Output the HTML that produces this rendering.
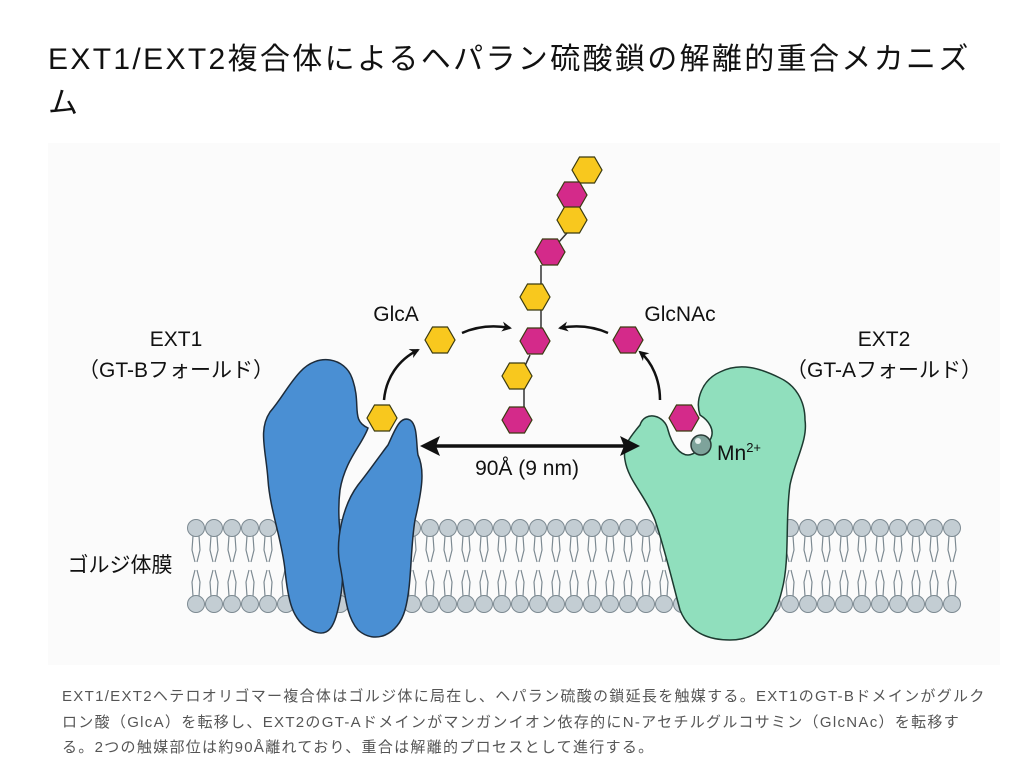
<!DOCTYPE html>
<html><head><meta charset="utf-8"><style>
body{margin:0;background:#fff;width:1019px;height:784px;overflow:hidden;font-family:"Liberation Sans","Noto Sans CJK JP",sans-serif}
.t{position:absolute;left:48px;top:38px;font-size:30px;line-height:44px;color:#111;white-space:nowrap;letter-spacing:2.35px}
.c{position:absolute;left:62px;top:684px;font-size:15px;line-height:25.5px;color:#555;white-space:nowrap;letter-spacing:1.3px}
svg{position:absolute;left:0;top:0}
</style></head><body>
<div class="t">EXT1/EXT2複合体によるヘパラン硫酸鎖の解離的重合メカニズ<br>ム</div>
<svg width="1019" height="784" font-family="Liberation Sans, Noto Sans CJK JP, sans-serif">
<defs>
<polygon id="hx" points="-15,0 -7.5,-13 7.5,-13 15,0 7.5,13 -7.5,13"/>
<marker id="ah" markerWidth="10" markerHeight="10" refX="8" refY="5" orient="auto" markerUnits="userSpaceOnUse"><path d="M0,0 L10,5 L0,10 L3,5z" fill="#111"/></marker>
<g id="lip"><circle cx="0" cy="0" r="8.5" fill="#c3cdd3" stroke="#7d8a92" stroke-width="1"/><path d="M-3,8 L-4,22 L-1,34 M3,8 L4,22 L1,34" stroke="#7d8a92" stroke-width="1.2" fill="none"/></g>
<g id="lip2"><circle cx="0" cy="0" r="8.5" fill="#c3cdd3" stroke="#7d8a92" stroke-width="1"/><path d="M-3,-8 L-4,-22 L-1,-34 M3,-8 L4,-22 L1,-34" stroke="#7d8a92" stroke-width="1.2" fill="none"/></g>
</defs>
<rect x="48" y="143" width="952" height="522" fill="#fbfbfb"/>
<g>
<use href="#lip" x="196" y="528"/><use href="#lip" x="214" y="528"/><use href="#lip" x="232" y="528"/><use href="#lip" x="250" y="528"/><use href="#lip" x="268" y="528"/><use href="#lip" x="286" y="528"/><use href="#lip" x="304" y="528"/><use href="#lip" x="322" y="528"/><use href="#lip" x="340" y="528"/><use href="#lip" x="358" y="528"/><use href="#lip" x="376" y="528"/><use href="#lip" x="394" y="528"/><use href="#lip" x="412" y="528"/><use href="#lip" x="430" y="528"/><use href="#lip" x="448" y="528"/><use href="#lip" x="466" y="528"/><use href="#lip" x="484" y="528"/><use href="#lip" x="502" y="528"/><use href="#lip" x="520" y="528"/><use href="#lip" x="538" y="528"/><use href="#lip" x="556" y="528"/><use href="#lip" x="574" y="528"/><use href="#lip" x="592" y="528"/><use href="#lip" x="610" y="528"/><use href="#lip" x="628" y="528"/><use href="#lip" x="646" y="528"/><use href="#lip" x="664" y="528"/><use href="#lip" x="682" y="528"/><use href="#lip" x="700" y="528"/><use href="#lip" x="718" y="528"/><use href="#lip" x="736" y="528"/><use href="#lip" x="754" y="528"/><use href="#lip" x="772" y="528"/><use href="#lip" x="790" y="528"/><use href="#lip" x="808" y="528"/><use href="#lip" x="826" y="528"/><use href="#lip" x="844" y="528"/><use href="#lip" x="862" y="528"/><use href="#lip" x="880" y="528"/><use href="#lip" x="898" y="528"/><use href="#lip" x="916" y="528"/><use href="#lip" x="934" y="528"/><use href="#lip" x="952" y="528"/>
<use href="#lip2" x="196" y="604"/><use href="#lip2" x="214" y="604"/><use href="#lip2" x="232" y="604"/><use href="#lip2" x="250" y="604"/><use href="#lip2" x="268" y="604"/><use href="#lip2" x="286" y="604"/><use href="#lip2" x="304" y="604"/><use href="#lip2" x="322" y="604"/><use href="#lip2" x="340" y="604"/><use href="#lip2" x="358" y="604"/><use href="#lip2" x="376" y="604"/><use href="#lip2" x="394" y="604"/><use href="#lip2" x="412" y="604"/><use href="#lip2" x="430" y="604"/><use href="#lip2" x="448" y="604"/><use href="#lip2" x="466" y="604"/><use href="#lip2" x="484" y="604"/><use href="#lip2" x="502" y="604"/><use href="#lip2" x="520" y="604"/><use href="#lip2" x="538" y="604"/><use href="#lip2" x="556" y="604"/><use href="#lip2" x="574" y="604"/><use href="#lip2" x="592" y="604"/><use href="#lip2" x="610" y="604"/><use href="#lip2" x="628" y="604"/><use href="#lip2" x="646" y="604"/><use href="#lip2" x="664" y="604"/><use href="#lip2" x="682" y="604"/><use href="#lip2" x="700" y="604"/><use href="#lip2" x="718" y="604"/><use href="#lip2" x="736" y="604"/><use href="#lip2" x="754" y="604"/><use href="#lip2" x="772" y="604"/><use href="#lip2" x="790" y="604"/><use href="#lip2" x="808" y="604"/><use href="#lip2" x="826" y="604"/><use href="#lip2" x="844" y="604"/><use href="#lip2" x="862" y="604"/><use href="#lip2" x="880" y="604"/><use href="#lip2" x="898" y="604"/><use href="#lip2" x="916" y="604"/><use href="#lip2" x="934" y="604"/><use href="#lip2" x="952" y="604"/>
</g>
<path d="M300,372 C318,352 345,358 352,378 C362,405 350,420 368,428 C362,445 345,460 340,490 C335,530 348,560 340,600 C335,625 330,640 310,630 C292,620 288,600 285,570 C282,540 270,510 268,480 C266,450 258,430 270,412 C282,398 288,385 300,372Z" fill="#4a8fd3" stroke="#1d2b3a" stroke-width="1.5"/>
<path d="M388,445 C395,430 400,415 410,420 C418,425 416,445 418,455 C425,470 422,490 415,520 C410,550 412,585 405,610 C398,635 375,645 358,630 C345,615 345,590 340,565 C335,540 343,505 358,485 C370,470 378,458 388,445Z" fill="#4a8fd3" stroke="#1d2b3a" stroke-width="1.5"/>
<path d="M640,425 C645,410 665,415 668,430 C672,445 680,455 688,455 C695,455 705,445 710,440 C716,430 708,420 700,415 C695,400 702,380 720,372 C740,362 760,368 780,378 C795,385 805,400 805,420 C808,440 795,460 790,485 C785,520 790,560 782,590 C775,620 760,640 730,640 C705,640 688,630 680,610 C672,580 665,550 655,520 C645,495 628,480 625,460 C622,445 632,435 640,425Z" fill="#90dfbd" stroke="#1d3a30" stroke-width="1.5"/>
<circle cx="701" cy="445" r="10" fill="#7ea39b" stroke="#2a3a36" stroke-width="1.5"/><circle cx="698" cy="441" r="3" fill="#e5f0ed"/>
<path d="M567,233 L550,252 M541,265 L541,330 M530,355 L524,368 M524,388 L524,410" stroke="#333" stroke-width="1.5" fill="none"/>
<g stroke="#3a3a10" stroke-width="1.2">
<use href="#hx" x="587" y="170" fill="#f8c81e"/>
<use href="#hx" x="572" y="195" fill="#d42a8a"/>
<use href="#hx" x="572" y="220" fill="#f8c81e"/>
<use href="#hx" x="550" y="252" fill="#d42a8a"/>
<use href="#hx" x="535" y="297" fill="#f8c81e"/>
<use href="#hx" x="535" y="341" fill="#d42a8a"/>
<use href="#hx" x="517" y="376" fill="#f8c81e"/>
<use href="#hx" x="517" y="420" fill="#d42a8a"/>
<use href="#hx" x="440" y="340" fill="#f8c81e"/>
<use href="#hx" x="628" y="340" fill="#d42a8a"/>
<use href="#hx" x="382" y="418" fill="#f8c81e"/>
<use href="#hx" x="684" y="418" fill="#d42a8a"/>
</g>
<g stroke="#111" stroke-width="2.5" fill="none" marker-end="url(#ah)">
<path d="M384,400 C386,378 398,360 418,350"/>
<path d="M462,333 C478,326 494,325 510,328"/>
<path d="M660,400 C660,380 652,362 640,352"/>
<path d="M608,333 C592,326 576,325 560,328"/>
</g>
<path d="M432,446 L628,446" stroke="#111" stroke-width="3.5"/>
<path d="M420,446 L440,436 L436,446 L440,456Z M640,446 L620,436 L624,446 L620,456Z" fill="#111"/>
<g font-size="21" fill="#111">
<text x="527" y="475" text-anchor="middle">90Å (9 nm)</text>
<text x="717" y="460">Mn<tspan font-size="13" dy="-8">2+</tspan></text>
<text x="396" y="321" text-anchor="middle">GlcA</text>
<text x="680" y="321" text-anchor="middle">GlcNAc</text>
<text x="176" y="346" text-anchor="middle">EXT1</text>
<text x="176" y="377" text-anchor="middle">（GT-Bフォールド）</text>
<text x="884" y="346" text-anchor="middle">EXT2</text>
<text x="884" y="377" text-anchor="middle">（GT-Aフォールド）</text>
<text x="120" y="572" text-anchor="middle">ゴルジ体膜</text>
</g>
</svg>
<div class="c">EXT1/EXT2ヘテロオリゴマー複合体はゴルジ体に局在し、ヘパラン硫酸の鎖延長を触媒する。EXT1のGT-Bドメインがグルク<br>ロン酸（GlcA）を転移し、EXT2のGT-Aドメインがマンガンイオン依存的にN-アセチルグルコサミン（GlcNAc）を転移す<br>る。2つの触媒部位は約90Å離れており、重合は解離的プロセスとして進行する。</div>
</body></html>
